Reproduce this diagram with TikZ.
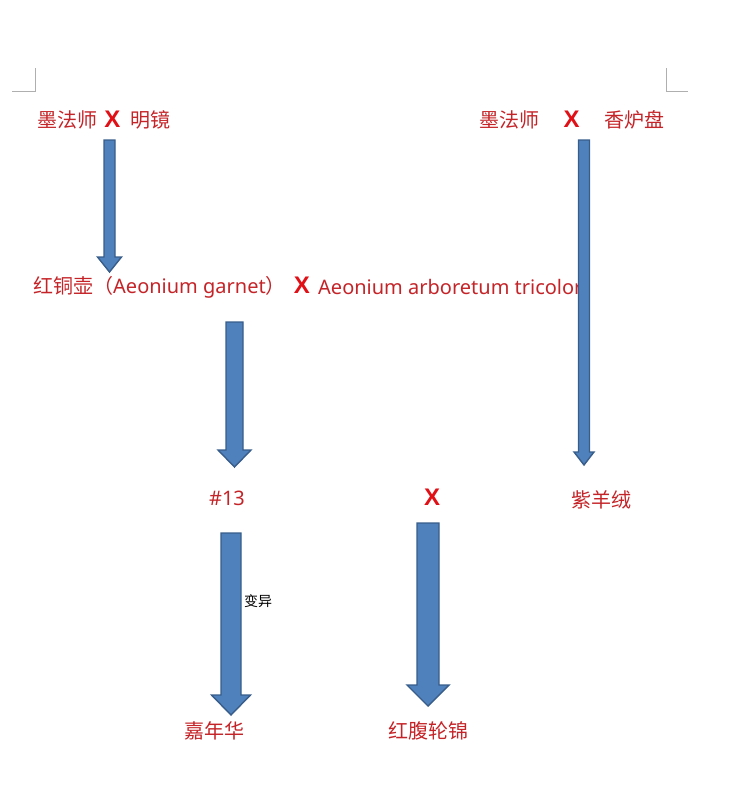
\documentclass[tikz,border=0pt]{standalone}
\usepackage{fontspec}
\setmainfont{Noto Sans}
\newfontfamily\cjk{Noto Sans CJK SC}
\newfontfamily\crossfont{Liberation Sans}
\usetikzlibrary{calc}
\usetikzlibrary{positioning}
\definecolor{labelred}{RGB}{196,36,40}
\definecolor{crossred}{RGB}{224,16,22}
\definecolor{arrowfill}{RGB}{79,129,189}
\definecolor{arrowedge}{RGB}{56,93,138}
\definecolor{markgray}{RGB}{175,175,175}

\begin{document}
\begin{tikzpicture}[
        x=1pt,
        y=-1pt,
        label text/.style={text=labelred,inner sep=0pt,font=\cjk\fontsize{20}{24}\selectfont},
        latin text/.style={text=labelred,inner sep=0pt,font=\fontsize{20}{24}\selectfont},
        cross/.style={text=crossred,inner sep=0pt,font=\crossfont\bfseries\fontsize{24}{28}\selectfont},
        mutation/.style={text=black,inner sep=0pt,font=\cjk\fontsize{14}{16}\selectfont},
        corner mark/.style={draw=markgray,line width=1pt},
        block arrow/.style n args={3}{fill=arrowfill,draw=arrowedge,line width=1.4pt,
            to path={let \p1=(\tikztostart), \p2=(\tikztotarget) in
                (\x1-#1,\y1) -- (\x1+#1,\y1) -- (\x1+#1,\y2+#3) -- (\x1+#2,\y2+#3)
                -- (\x1,\y2) -- (\x1-#2,\y2+#3) -- (\x1-#1,\y2+#3) -- cycle}}
    ]
        \useasboundingbox (0,0) rectangle (750,795);

        % Page corner marks.
        \draw[corner mark] (35,68) -- (35,91) -- (12,91);
        \draw[corner mark] (666,68) -- (666,91) -- (688,91);

        % The first cross.
        \node[label text] (mofashione) at (67,120) {墨法师};
        \node[cross] (crossone) at (112.5,119) {X};
        \node[label text] (mingjing) at (150.5,120) {明镜};

        % The second cross.
        \node[label text] (mofashitwo) at (509.5,120) {墨法师};
        \node[cross] (crosstwo) at (571.5,119) {X};
        \node[label text] (xianglupan) at (634,120) {香炉盘};

        % The cross of the two Aeonium.
        \node[label text,anchor=west] (hongtonghu) at (33,287)
            {红铜壶（{\normalfont Aeonium garnet}）};
        \node[cross] (crossthree) at (302,285) {X};
        \node[latin text,anchor=west] (tricolor) at (318,287)
            {Aeonium arboretum tricolor};

        % The offspring.
        \node[latin text] (numthirteen) at (227,498) {\#13};
        \node[cross] (crossfour) at (432,497) {X};
        \node[label text] (ziyangrong) at (601,500) {紫羊绒};
        \node[mutation] (bianyi) at (258,601) {变异};
        \node[label text] (jianianhua) at (214,731) {嘉年华};
        \node[label text] (hongfu) at (428,731) {红腹轮锦};

        % Ends of the block arrows.
        \coordinate (arrowonetop) at (109.5,140);
        \coordinate (arrowonetip) at (109.5,272);
        \coordinate (arrowtwotop) at (584,140);
        \coordinate (arrowtwotip) at (584,465);
        \coordinate (arrowthreetop) at (234.5,322);
        \coordinate (arrowthreetip) at (234.5,467);
        \coordinate (arrowfourtop) at (231,533);
        \coordinate (arrowfourtip) at (231,715);
        \coordinate (arrowfivetop) at (428,523);
        \coordinate (arrowfivetip) at (428,706);

        \draw[block arrow={5.5}{12}{15}] (arrowonetop) to (arrowonetip);
        \draw[block arrow={5.5}{10}{13}] (arrowtwotop) to (arrowtwotip);
        \draw[block arrow={8.5}{16.5}{17}] (arrowthreetop) to (arrowthreetip);
        \draw[block arrow={10}{19.5}{20}] (arrowfourtop) to (arrowfourtip);
        \draw[block arrow={11}{21}{21}] (arrowfivetop) to (arrowfivetip);
    \end{tikzpicture}
\end{document}
